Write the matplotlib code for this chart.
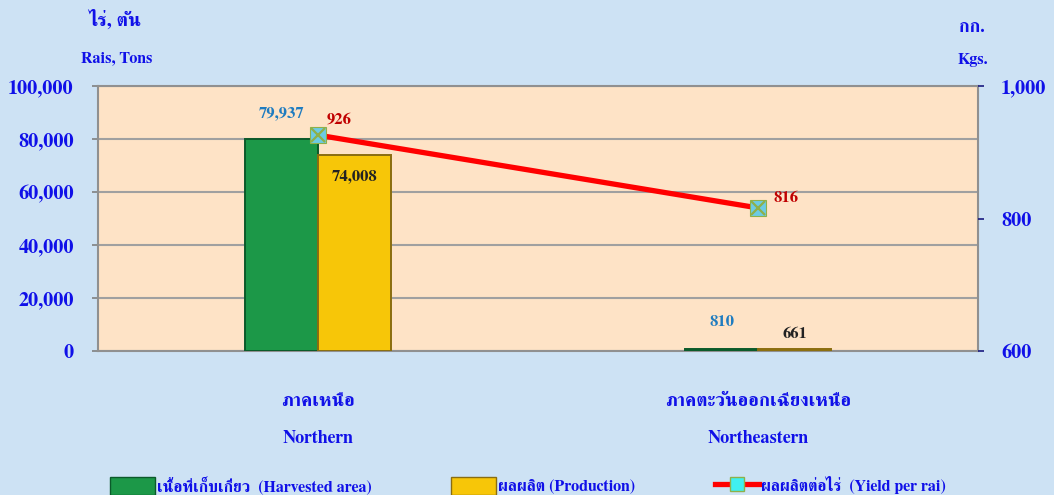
import matplotlib
matplotlib.use("Agg")
import matplotlib.pyplot as plt
import numpy as np
from matplotlib.patches import Patch
from matplotlib.lines import Line2D
from matplotlib.ticker import FuncFormatter, FixedLocator

plt.rcParams['font.family'] = ['FreeSerif', 'Liberation Serif', 'Noto Serif Thai', 'DejaVu Sans']
plt.rcParams['font.weight'] = 'bold'

# data
regions_th = ["ภาคเหนือ", "ภาคตะวันออกเฉียงเหนือ"]
regions_en = ["Northern", "Northeastern"]
harvested = [79937, 810]
production = [74008, 661]
yield_per_rai = [926, 816]

blue = "#1010e8"
fig = plt.figure(figsize=(10.54, 4.95), dpi=100, facecolor="#cde2f4")
ax = fig.add_axes([0.093, 0.291, 0.835, 0.535])
ax.set_facecolor("#fee3c6")

x = np.arange(len(regions_en))
w = 0.166
ax.bar(x - w / 2, harvested, w, color="#1c9848", edgecolor="#0b5a2a", linewidth=1.4, zorder=3)
ax.bar(x + w / 2, production, w, color="#f7c608", edgecolor="#8a6d10", linewidth=1.4, zorder=3)

ax.set_xlim(-0.5, 1.5)
ax.set_ylim(0, 100000)
ax.yaxis.set_major_locator(FixedLocator(np.arange(0, 100001, 20000)))
ax.yaxis.set_major_formatter(FuncFormatter(lambda v, p: f"{int(v):,}"))
ax.grid(axis="y", color="#a0a0a0", linewidth=1.5, zorder=0)
ax.set_xticks([])
ax.tick_params(axis="y", colors="#808080", labelcolor=blue, labelsize=14.5, length=4.5, pad=13, width=1.2)
for lbl in ax.get_yticklabels():
    lbl.set_fontweight("bold")
for s in ["left", "bottom", "top", "right"]:
    ax.spines[s].set_color("#909090")
    ax.spines[s].set_linewidth(1.5)

ax2 = ax.twinx()
ax2.set_ylim(600, 1000)
ax2.yaxis.set_major_locator(FixedLocator([600, 800, 1000]))
ax2.yaxis.set_major_formatter(FuncFormatter(lambda v, p: f"{int(v):,}"))
ax2.tick_params(axis="y", colors="#1a1a80", labelcolor=blue, labelsize=14.5, length=4.5, pad=12, width=1.2)
for lbl in ax2.get_yticklabels():
    lbl.set_fontweight("bold")
for s in ax2.spines.values():
    s.set_visible(False)

ax2.plot(x, yield_per_rai, color="#ff0000", linewidth=3.8, zorder=5)
ax2.plot(x, yield_per_rai, linestyle="none", marker="s", markersize=11,
         markerfacecolor="#6ccbe4", markeredgecolor="#8fb04a", markeredgewidth=0.8, zorder=6)
ax2.plot(x, yield_per_rai, linestyle="none", marker="x", markersize=10,
         markeredgecolor="#8fb04a", markeredgewidth=1.6, zorder=7)

# value labels
for i in range(len(x)):
    ax.annotate(f"{harvested[i]:,}", (x[i] - w / 2, harvested[i]), xytext=(0, 14), textcoords="offset points",
                ha="center", va="bottom", color="#1f7cc0", fontsize=12, fontweight="bold")
ax.annotate(f"{production[0]:,}", (x[0] + w / 2, production[0]), xytext=(0, -15), textcoords="offset points",
            ha="center", va="center", color="#222222", fontsize=12, fontweight="bold")
ax.annotate(f"{production[1]:,}", (x[1] + w / 2, production[1]), xytext=(0, 6), textcoords="offset points",
            ha="center", va="bottom", color="#222222", fontsize=12, fontweight="bold")
ax2.annotate(f"{yield_per_rai[0]:,}", (x[0], yield_per_rai[0]), xytext=(15, 11), textcoords="offset points",
             ha="center", va="center", color="#c00000", fontsize=12, fontweight="bold")
ax2.annotate(f"{yield_per_rai[1]:,}", (x[1], yield_per_rai[1]), xytext=(20, 7), textcoords="offset points",
             ha="center", va="center", color="#c00000", fontsize=12, fontweight="bold")

# category labels
for i in range(len(x)):
    ax.text(x[i], -0.19, regions_th[i], transform=ax.get_xaxis_transform(), ha="center", va="center",
            color=blue, fontsize=13.5, fontweight="bold")
    ax.text(x[i], -0.33, regions_en[i], transform=ax.get_xaxis_transform(), ha="center", va="center",
            color=blue, fontsize=13, fontweight="bold")

# axis unit labels
fig.text(115 / 1054, 1 - 20 / 495, "ไร่, ตัน", ha="center", va="center", color=blue, fontsize=14, fontweight="bold")
fig.text(117 / 1054, 1 - 58 / 495, "Rais, Tons", ha="center", va="center", color=blue, fontsize=11.5, fontweight="bold")
fig.text(972 / 1054, 1 - 28 / 495, "กก.", ha="center", va="center", color=blue, fontsize=13, fontweight="bold")
fig.text(973 / 1054, 1 - 60 / 495, "Kgs.", ha="center", va="center", color=blue, fontsize=11.5, fontweight="bold")

handles = [
    Patch(facecolor="#1c9848", edgecolor="#0b5a2a"),
    Patch(facecolor="#f7c608", edgecolor="#8a6d10"),
    Line2D([0], [0], color="#ff0000", linewidth=3.8, marker="s", markersize=10,
           markerfacecolor="#40f0f0", markeredgecolor="#8fb04a"),
]
labels = ["เนื้อที่เก็บเกี่ยว  (Harvested area)", "ผลผลิต (Production)", "ผลผลิตต่อไร่  (Yield per rai)"]
fig.legend(handles, labels, loc="center", bbox_to_anchor=(0.501, 1 - 485 / 495), ncol=3, frameon=False,
           handlelength=2.8, handleheight=1.3, handletextpad=0.1, columnspacing=5.0,
           prop={"size": 11.5, "weight": "bold"}, labelcolor=blue)

fig.savefig("out.png", dpi=100, facecolor=fig.get_facecolor())
